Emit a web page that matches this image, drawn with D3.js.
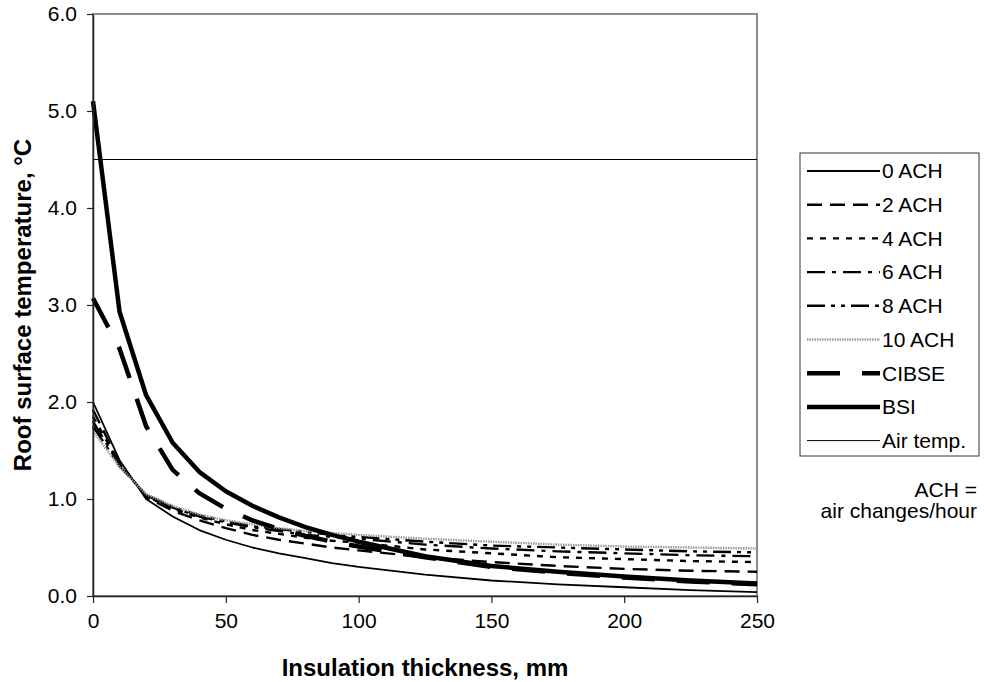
<!DOCTYPE html>
<html>
<head>
<meta charset="utf-8">
<script src="https://cdn.jsdelivr.net/npm/d3@7"></script>
<style>
  body { margin: 0; background: #fff; }
  text { font-family: "Liberation Sans", Arial, sans-serif; fill: #000; }
</style>
</head>
<body>
<div id="chart"></div>
<script>
// insulation thickness (mm)
var thickness = [0, 10, 20, 30, 40, 50, 60, 70, 80, 90, 100, 125, 150, 175, 200, 225, 250];

// roof surface temperature (C) for each case
var ach0  = [2.00, 1.40, 1.00, 0.82, 0.68, 0.58, 0.50, 0.44, 0.39, 0.34, 0.30, 0.22, 0.16, 0.12, 0.09, 0.06, 0.04];
var ach2  = [1.92, 1.37, 1.02, 0.88, 0.78, 0.70, 0.63, 0.58, 0.54, 0.50, 0.47, 0.40, 0.35, 0.31, 0.28, 0.26, 0.25];
var ach4  = [1.85, 1.36, 1.03, 0.90, 0.81, 0.74, 0.68, 0.64, 0.60, 0.57, 0.55, 0.48, 0.44, 0.40, 0.38, 0.36, 0.35];
var ach6  = [1.80, 1.35, 1.04, 0.91, 0.82, 0.76, 0.71, 0.67, 0.63, 0.61, 0.59, 0.53, 0.49, 0.46, 0.44, 0.42, 0.41];
var ach8  = [1.75, 1.34, 1.04, 0.92, 0.83, 0.77, 0.72, 0.69, 0.66, 0.63, 0.61, 0.56, 0.52, 0.50, 0.48, 0.46, 0.45];
var ach10 = [1.70, 1.33, 1.05, 0.93, 0.84, 0.78, 0.74, 0.70, 0.67, 0.65, 0.63, 0.59, 0.56, 0.53, 0.51, 0.50, 0.49];
var cibse = [3.07, 2.55, 1.75, 1.30, 1.06, 0.90, 0.78, 0.69, 0.62, 0.56, 0.51, 0.40, 0.30, 0.24, 0.19, 0.15, 0.12];
var bsi   = [5.10, 2.93, 2.07, 1.58, 1.28, 1.08, 0.93, 0.81, 0.71, 0.63, 0.56, 0.41, 0.31, 0.25, 0.20, 0.16, 0.13];
var airTemp = [4.5, 4.5];

var xTicks = [0, 50, 100, 150, 200, 250];
var yTicks = [0, 1, 2, 3, 4, 5, 6];

var series = [
    { name: "0 ACH",     values: ach0,  width: 1.8, color: "#000", dash: null },
    { name: "2 ACH",     values: ach2,  width: 2.4, color: "#000", dash: "15,8" },
    { name: "4 ACH",     values: ach4,  width: 2.4, color: "#000", dash: "6,7" },
    { name: "6 ACH",     values: ach6,  width: 2.4, color: "#000", dash: "18,7,4,7" },
    { name: "8 ACH",     values: ach8,  width: 2.4, color: "#000", dash: "18,6,4,6,4,6" },
    { name: "10 ACH",    values: ach10, width: 2.4, color: "#9a9a9a", dash: "1.5,1" },
    { name: "CIBSE",     values: cibse, width: 4.5, color: "#000", dash: "33,22" },
    { name: "BSI",       values: bsi,   width: 4.5, color: "#000", dash: null },
    { name: "Air temp.", values: null,  width: 1,   color: "#000", dash: null }
];

var W = 987, H = 682;
var margin = { left: 93, right: 230, top: 14, bottom: 86 };

var svg = d3.select("#chart").append("svg")
    .attr("width", W)
    .attr("height", H);

var x = d3.scaleLinear().domain([0, 250]).range([margin.left, W - margin.right]);
var y = d3.scaleLinear().domain([0, 6]).range([H - margin.bottom, margin.top]);

// plot area border (grey top/right)
svg.append("rect")
    .attr("x", x(0)).attr("y", y(6))
    .attr("width", x(250) - x(0)).attr("height", y(0) - y(6))
    .attr("fill", "none")
    .attr("stroke", "#8c8c8c")
    .attr("stroke-width", 2);

var line = d3.line()
    .x(function(d, i) { return x(thickness[i]); })
    .y(function(d) { return y(d); });

// air temperature line
svg.append("line")
    .attr("x1", x(0)).attr("x2", x(250))
    .attr("y1", y(airTemp[0])).attr("y2", y(airTemp[1]))
    .attr("stroke", "#000")
    .attr("stroke-width", 1);

svg.selectAll("path.series")
    .data(series.filter(function(s) { return s.values; }))
    .enter()
    .append("path")
    .attr("class", "series")
    .attr("d", function(s) { return line(s.values); })
    .attr("fill", "none")
    .attr("stroke", function(s) { return s.color; })
    .attr("stroke-width", function(s) { return s.width; })
    .attr("stroke-dasharray", function(s) { return s.dash; })
    .attr("stroke-linejoin", "round");

// axes
var xAxis = svg.append("g")
    .attr("transform", "translate(0," + y(0) + ")")
    .call(d3.axisBottom(x).tickValues(xTicks).tickSize(7).tickSizeOuter(0).tickPadding(10));
var yAxis = svg.append("g")
    .attr("transform", "translate(" + x(0) + ",0)")
    .call(d3.axisLeft(y).tickValues(yTicks).tickSize(6).tickSizeOuter(0).tickPadding(10)
        .tickFormat(d3.format(".1f")));

[xAxis, yAxis].forEach(function(g) {
    g.select(".domain").attr("stroke", "#222").attr("stroke-width", 1.5);
    g.selectAll(".tick line").attr("stroke", "#222").attr("stroke-width", 1.2);
    g.selectAll(".tick text")
        .style("font-family", "Liberation Sans, Arial, sans-serif")
        .style("font-size", "21px")
        .attr("fill", "#000");
});

// axis titles
svg.append("text")
    .attr("x", (x(0) + x(250)) / 2)
    .attr("y", 676)
    .attr("text-anchor", "middle")
    .style("font-size", "24px")
    .style("font-weight", "bold")
    .text("Insulation thickness, mm");

svg.append("text")
    .attr("transform", "translate(31," + (y(0) + y(6)) / 2 + ") rotate(-90)")
    .attr("text-anchor", "middle")
    .style("font-size", "24px")
    .style("font-weight", "bold")
    .text("Roof surface temperature, \u00b0C");

// legend
var lg = svg.append("g");
lg.append("rect")
    .attr("x", 800).attr("y", 153)
    .attr("width", 179).attr("height", 303)
    .attr("fill", "#fff")
    .attr("stroke", "#333")
    .attr("stroke-width", 1);

var item = lg.selectAll("g.item")
    .data(series)
    .enter()
    .append("g")
    .attr("class", "item")
    .attr("transform", function(d, i) { return "translate(0," + (171 + i * 33.7) + ")"; });

item.append("line")
    .attr("x1", 807).attr("x2", 880)
    .attr("stroke", function(s) { return s.color; })
    .attr("stroke-width", function(s) { return s.width; })
    .attr("stroke-dasharray", function(s) { return s.dash; });

item.append("text")
    .attr("x", 882)
    .attr("dy", "0.35em")
    .style("font-size", "21px")
    .text(function(s) { return s.name; });

svg.append("text")
    .attr("x", 977).attr("y", 497)
    .attr("text-anchor", "end")
    .style("font-size", "21px")
    .text("ACH =");
svg.append("text")
    .attr("x", 977).attr("y", 518)
    .attr("text-anchor", "end")
    .style("font-size", "21px")
    .text("air changes/hour");
</script>
</body>
</html>
